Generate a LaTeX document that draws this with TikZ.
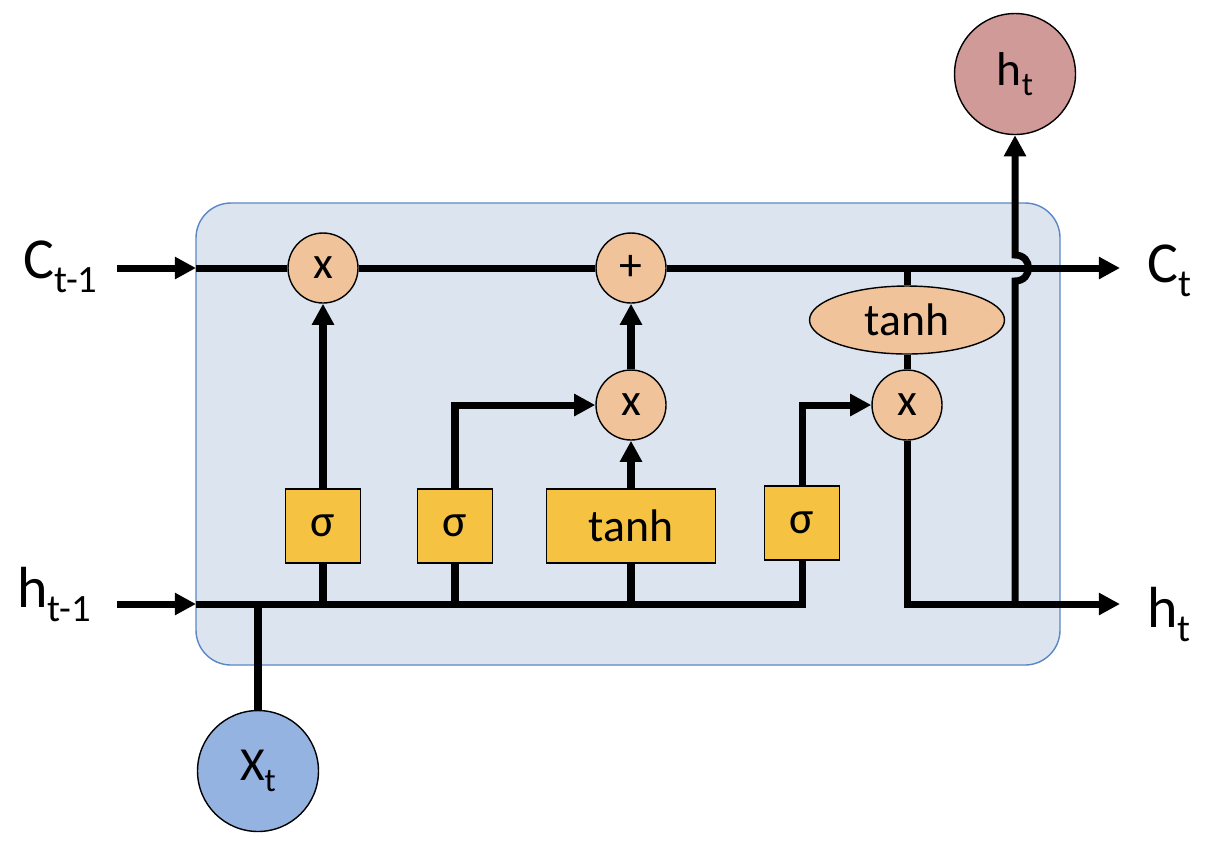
\documentclass[tikz,border=0pt]{standalone}
\usepackage{fontspec}
\setmainfont{Carlito}
\usetikzlibrary{arrows.meta,shapes.geometric}
\definecolor{cellfill}{HTML}{DCE4EF}
\definecolor{celledge}{HTML}{5B87C5}
\definecolor{opfill}{HTML}{F1C39A}
\definecolor{gatefill}{HTML}{F5C242}
\definecolor{outfill}{HTML}{D09A98}
\definecolor{infill}{HTML}{94B3E0}
\newcommand{\vlab}[2]{{\fontsize{33}{36}\selectfont #1}\raisebox{-8pt}{\fontsize{22}{24}\selectfont #2}}
\newcommand{\clab}[2]{{\fontsize{27}{30}\selectfont #1}\raisebox{-6pt}{\fontsize{19}{21}\selectfont #2}}

\begin{document}
\begin{tikzpicture}[x=0.02cm,y=-0.02cm,
  flow/.style={line width=4pt},
  arr/.style={flow,-{Triangle[length=12pt,width=12pt]}},
  op/.style={circle,draw,thick,fill=opfill,minimum size=1.4cm,inner sep=0pt,font=\fontsize{26}{28}\selectfont},
  gate/.style={rectangle,draw,thick,fill=gatefill,minimum width=1.5cm,minimum height=1.48cm,inner sep=0pt,font=\fontsize{26}{28}\selectfont},
  vec/.style={circle,draw,thick,minimum size=2.42cm,inner sep=0pt},
  lab/.style={anchor=base west,inner sep=0pt}]
  \useasboundingbox (0,0) rectangle (1222,850);
  % cell
  \draw[celledge,fill=cellfill,thick,rounded corners=0.7cm] (196,203) rectangle (1060,665);
  % states in and out
  \node[lab] (ctm) at (23,278) {\vlab{C}{t-1}};
  \node[lab] (htm) at (17,607) {\vlab{h}{t-1}};
  \node[lab] (ctl) at (1147,282) {\vlab{C}{t}};
  \node[lab] (htl) at (1147,627) {\vlab{h}{t}};
  \coordinate (cin) at (117,268);
  \coordinate (cbox) at (196,268);
  \coordinate (cout) at (1120,268);
  \coordinate (hin) at (117,604);
  \coordinate (hbox) at (196,604);
  \coordinate (hend) at (802,604);
  \coordinate (hout) at (1120,604);
  \coordinate (hj) at (1015,604);
  \coordinate (hopb) at (1015,281);
  \coordinate (hopt) at (1015,255);
  \coordinate (cj) at (907,268);
  % operations
  \node[op] (mf) at (323,268) {x};
  \node[op] (pl) at (631,268) {+};
  \node[op] (mi) at (631,405) {x};
  \node[op] (mo) at (907,405) {x};
  \node[ellipse,draw,thick,fill=opfill,minimum width=3.9cm,minimum height=1.36cm,inner sep=0pt,font=\fontsize{26}{28}\selectfont] (th) at (907,320) {tanh};
  % gates
  \node[gate] (sf) at (323,526) {σ};
  \node[gate] (si) at (455,526) {σ};
  \node[gate,minimum width=3.38cm] (tg) at (631,526) {tanh};
  \node[gate] (so) at (802,523) {σ};
  % input and output vectors
  \node[vec,fill=infill] (xt) at (258,771) {\clab{X}{t}};
  \node[vec,fill=outfill] (ho) at (1015,74) {\clab{h}{t}};
  % cell state
  \draw[arr] (cin) -- (cbox);
  \draw[flow] (cbox) -- (mf);
  \draw[flow] (mf) -- (pl);
  \draw[arr] (pl) -- (cout);
  \draw[flow] (cj) -- (th);
  \draw[flow] (th) -- (mo);
  % hidden state
  \draw[arr] (hin) -- (hbox);
  \draw[flow] (hbox) -- (hend) -- (so);
  \draw[flow] (sf) -- (sf |- hbox);
  \draw[flow] (si) -- (si |- hbox);
  \draw[flow] (tg) -- (tg |- hbox);
  \draw[flow] (xt) -- (xt |- hbox);
  % gate outputs
  \draw[arr] (sf) -- (mf);
  \draw[arr] (si.north) |- (mi.west);
  \draw[arr] (tg) -- (mi);
  \draw[arr] (mi) -- (pl);
  \draw[arr] (so.north) |- (mo.west);
  \draw[arr] (mo.south) |- (hout);
  \draw[arr] (hj) -- (hopb) .. controls (1033,281) and (1033,255) .. (hopt) -- (ho);
\end{tikzpicture}
\end{document}
